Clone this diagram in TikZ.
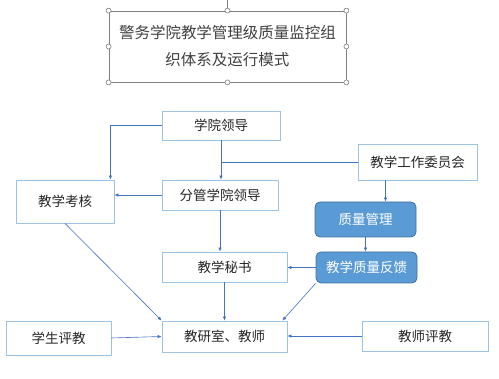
\documentclass[tikz,border=0pt]{standalone}
\usepackage{fontspec}
\setmainfont{Noto Sans CJK SC}
\usepackage{xcolor}
\usetikzlibrary{arrows.meta}
\definecolor{lineblue}{RGB}{68,114,196}
\definecolor{boxblue}{RGB}{157,195,230}
\definecolor{fillblue}{RGB}{91,155,213}
\definecolor{darkblue}{RGB}{65,113,156}

\tikzset{
box/.style={draw=boxblue, line width=0.8, fill=white, text=black!85, font=\fontsize{13.5}{15}\selectfont, inner sep=0},
bluebox/.style={draw=darkblue, line width=0.8, fill=fillblue, rounded corners=5, text=white, font=\fontsize{13.5}{15}\selectfont, inner sep=0},
link/.style={draw=lineblue, line width=0.6, -{Latex[length=4pt,width=3.5pt]}},
handle/.style={circle, draw=gray, fill=white, line width=0.6, inner sep=0, minimum size=5}
}

\begin{document}
\begin{tikzpicture}[x=1pt,y=-1pt]
\useasboundingbox (0,0) rectangle (499,379);

% title frame
\node[draw=gray, line width=0.8, minimum width=237, minimum height=71, inner sep=0, align=center, text=black!75, font=\fontsize{15.5}{27}\selectfont] (title) at (227.5,46.5) {警务学院教学管理级质量监控组\\织体系及运行模式};
\draw[gray, line width=0.6] (title.north) -- (title.north |- 0,0);
\foreach \a in {north west, north, north east, east, south east, south, south west, west}
  \node[handle] at (title.\a) {};

% boxes
\node[box, minimum width=118, minimum height=29] (xyld) at (221,125.5) {学院领导};
\node[box, minimum width=116, minimum height=30] (fgld) at (220,195) {分管学院领导};
\node[box, minimum width=98, minimum height=43] (jxkh) at (65,201.5) {教学考核};
\node[box, minimum width=119, minimum height=36] (wyh) at (417.5,162) {教学工作委员会};
\node[bluebox, minimum width=101, minimum height=35] (zlgl) at (365.5,219.5) {质量管理};
\node[bluebox, minimum width=101, minimum height=31] (zlfk) at (366.5,267.5) {教学质量反馈};
\node[box, minimum width=125, minimum height=30] (jxms) at (224.5,267) {教学秘书};
\node[box, minimum width=125, minimum height=31] (jys) at (224.5,336.5) {教研室、教师};
\node[box, minimum width=105, minimum height=34] (xspj) at (58.5,338) {学生评教};
\node[box, minimum width=126, minimum height=30] (jspj) at (425,336) {教师评教};

% connectors
\draw[link] (xyld.west) -| ([xshift=-4pt]jxkh.north east);
\draw[link] (xyld.south) -- (xyld.south |- fgld.north);
\draw[draw=lineblue, line width=0.6] (wyh.west) -- (wyh.west -| xyld.south);
\draw[link] (fgld.west) -- (fgld.west -| jxkh.east);
\draw[link] (fgld.south) -- (fgld.south |- jxms.north);
\draw[link] ([xshift=-32pt]wyh.south) -- ([xshift=-32pt]wyh.south |- zlgl.north);
\draw[link] (zlgl.south) -- (zlgl.south |- zlfk.north);
\draw[link] (zlfk.west) -- (zlfk.west -| jxms.east);
\draw[link] (zlfk.south west) -- ([xshift=-5pt]jys.north east);
\draw[link] (jxkh.south) -- (jys.north west);
\draw[link] (jxms.south) -- (jys.north -| jxms.south);
\draw[link] (xspj.east) -- (jys.west);
\draw[link] (jspj.west) -- (jspj.west -| jys.east);

\end{tikzpicture}
\end{document}
